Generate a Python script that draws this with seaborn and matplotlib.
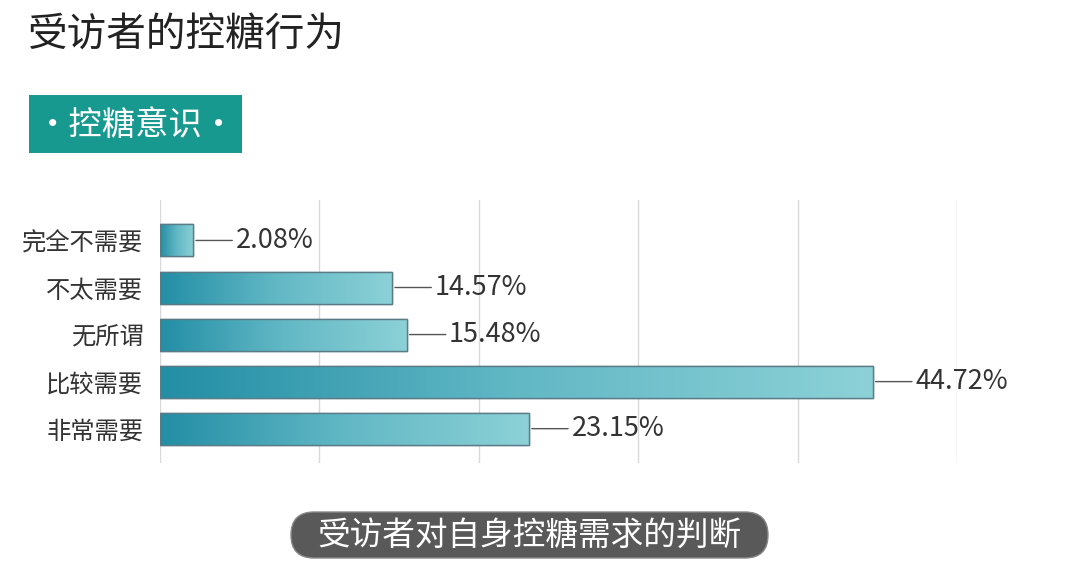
import matplotlib
matplotlib.use("Agg")
import matplotlib.pyplot as plt
import numpy as np
import pandas as pd
import seaborn as sns
from matplotlib.colors import LinearSegmentedColormap
from matplotlib.patches import FancyBboxPatch, Rectangle

# data
categories = ["完全不需要", "不太需要", "无所谓", "比较需要", "非常需要"]
shares = [2.08, 14.57, 15.48, 44.72, 23.15]
value_labels = ["2.08%", "14.57%", "15.48%", "44.72%", "23.15%"]

title = "受访者的控糖行为"
badge = "·控糖意识·"
caption = "受访者对自身控糖需求的判断"

df = pd.DataFrame({"category": categories, "share": shares})

sns.set_theme(style="white")
plt.rcParams["font.family"] = ["Noto Sans CJK SC", "DejaVu Sans"]

fig = plt.figure(figsize=(10.8, 5.73), dpi=100)
ax = fig.add_axes([160 / 1080, 1 - 463 / 573, (957 - 160) / 1080, (463 - 200) / 573])

sns.barplot(data=df, x="share", y="category", ax=ax, width=0.68,
            color="#3a9db0", edgecolor="#5b7c86", linewidth=1.0, zorder=3)

ax.set_xlim(0, 50)
ax.set_ylim(4.73, -0.86)
ax.set_xticks(np.arange(0, 51, 10))
ax.set_xticklabels([])
ax.xaxis.grid(True, color="#d9d9d9", linewidth=1.0, zorder=0)
ax.yaxis.grid(False)
for s in ax.spines.values():
    s.set_visible(False)
ax.tick_params(axis="y", length=0, pad=12, labelsize=17.5, labelcolor="#333333")
ax.tick_params(axis="x", length=0)
ax.set_xlabel("")
ax.set_ylabel("")

# gradient fill for each bar
cmap = LinearSegmentedColormap.from_list("teal", ["#238ea5", "#62b8c5", "#8cd1d7"])
grad = np.linspace(0, 1, 256).reshape(1, -1)
for patch in ax.patches:
    x0, y0 = patch.get_x(), patch.get_y()
    w, h = patch.get_width(), patch.get_height()
    im = ax.imshow(grad, cmap=cmap, aspect="auto", extent=(x0, x0 + w, y0 + h, y0),
                   zorder=3.5, interpolation="bicubic")
    im.set_clip_path(patch)
    edge = Rectangle((x0, y0), w, h, fill=False, edgecolor="#5b7c86", linewidth=1.0, zorder=4)
    ax.add_patch(edge)
ax.set_xlim(0, 50)
ax.set_ylim(4.73, -0.86)

# value labels with leader line
for i, (v, lab) in enumerate(zip(shares, value_labels)):
    ax.annotate(lab, xy=(v, i), xytext=(30.5, 0), textcoords="offset points",
                ha="left", va="center", fontsize=19.5, color="#333333",
                arrowprops=dict(arrowstyle="-", color="#555555", lw=1.0, shrinkA=0, shrinkB=2),
                annotation_clip=False, zorder=5)

# title
fig.text(28 / 1080, 1 - 35 / 573, title, fontsize=28.5, color="#222222", ha="left", va="center")

# teal badge
fig.patches.append(Rectangle((29 / 1080, 1 - 153 / 573), 213 / 1080, 58 / 573,
                             transform=fig.transFigure, facecolor="#17998f", edgecolor="none"))
fig.text(136 / 1080, 1 - 125 / 573, badge, fontsize=24, color="white", ha="center", va="center")

# caption pill
cap_ax = fig.add_axes([0, 0, 1, 1], facecolor="none")
cap_ax.set_xlim(0, 1080)
cap_ax.set_ylim(573, 0)
cap_ax.axis("off")
cap_ax.add_patch(FancyBboxPatch((291, 512), 477, 46,
                                boxstyle="round,pad=0,rounding_size=23",
                                mutation_aspect=1, facecolor="#595959", edgecolor="#888888", lw=1))
cap_ax.text(529, 536, caption, fontsize=23.5, color="white", ha="center", va="center")

fig.savefig("out.png", dpi=100)
